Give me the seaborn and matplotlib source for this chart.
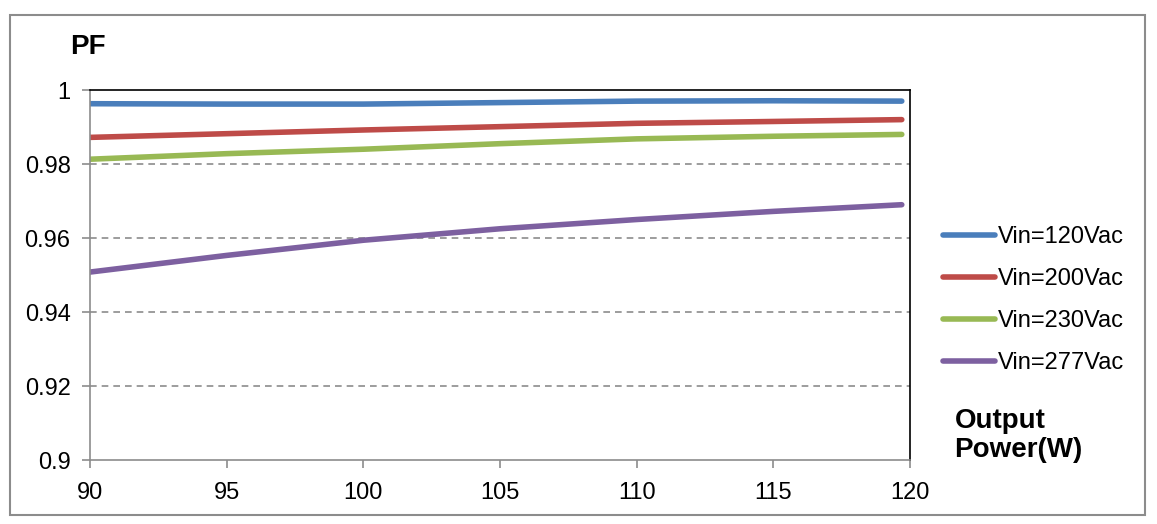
import matplotlib
matplotlib.use("Agg")
import matplotlib.pyplot as plt
from matplotlib.patches import Rectangle
import numpy as np
import pandas as pd
import seaborn as sns

# values
power = [90, 95, 100, 105, 110, 115, 119.7]
pf_120 = [0.9963, 0.9962, 0.9962, 0.9966, 0.9970, 0.9971, 0.9970]
pf_200 = [0.9872, 0.9882, 0.9892, 0.9901, 0.9910, 0.9915, 0.9920]
pf_230 = [0.9813, 0.9828, 0.9840, 0.9855, 0.9868, 0.9875, 0.9880]
pf_277 = [0.9508, 0.9553, 0.9594, 0.9625, 0.9650, 0.9672, 0.9690]
series = ["Vin=120Vac", "Vin=200Vac", "Vin=230Vac", "Vin=277Vac"]
colors = ["#4a7ebb", "#be4b48", "#98b954", "#7d60a0"]
yticks = [0.9, 0.92, 0.94, 0.96, 0.98, 1.0]
ylabels = ["0.9", "0.92", "0.94", "0.96", "0.98", "1"]
xticks = [90, 95, 100, 105, 110, 115, 120]

df = pd.DataFrame({
    "power": power * 4,
    "pf": pf_120 + pf_200 + pf_230 + pf_277,
    "vin": sum([[s] * len(power) for s in series], []),
})

sns.set_style("white")
plt.rcParams['font.family'] = ['Liberation Sans', 'DejaVu Sans']
plt.rcParams['text.color'] = 'black'
plt.rcParams['xtick.labelcolor'] = 'black'
plt.rcParams['ytick.labelcolor'] = 'black'

fig = plt.figure(figsize=(11.57, 5.24), dpi=100)
ax = fig.add_axes([0.0778, 0.1221, 0.7087, 0.7061])

# dashed grid under the lines
for y in yticks[1:-1]:
    ax.axhline(y, color="#8c8c8c", lw=1.2, ls=(0, (4, 3)), zorder=0)

sns.lineplot(data=df, x="power", y="pf", hue="vin", palette=colors,
             lw=4, ax=ax, legend=True, solid_capstyle="round")

ax.set_xlim(90, 120)
ax.set_ylim(0.9, 1.0)
ax.set_xticks(xticks)
ax.set_xticklabels([str(x) for x in xticks])
ax.set_yticks(yticks)
ax.set_yticklabels(ylabels)
ax.set_xlabel("")
ax.set_ylabel("")
ax.tick_params(axis="both", direction="out", length=6, width=1.2,
               color="#8c8c8c", labelsize=17, left=True, bottom=True)
ax.tick_params(axis="x", pad=10)
ax.tick_params(axis="y", pad=8)
for side in ["left", "bottom"]:
    ax.spines[side].set_color("#8c8c8c")
    ax.spines[side].set_linewidth(1.2)
for side in ["top", "right"]:
    ax.spines[side].set_color("black")
    ax.spines[side].set_linewidth(1.2)

leg = ax.legend(loc="center left", bbox_to_anchor=(0.797, 0.427),
                bbox_transform=fig.transFigure, frameon=False, fontsize=17,
                handlelength=2.2, handletextpad=0.1, labelspacing=0.85)
for line in leg.get_lines():
    line.set_linewidth(4)

fig.text(0.061, 0.91, "PF", fontsize=20, fontweight="bold", va="center")
fig.text(0.825, 0.168, "Output\nPower(W)", fontsize=20, fontweight="bold",
         va="center", linespacing=1.15)

fig.add_artist(Rectangle((0.009, 0.017), 0.981, 0.955, transform=fig.transFigure,
                         fill=False, edgecolor="#8c8c8c", lw=1.5))

fig.savefig("out.png", dpi=100)
